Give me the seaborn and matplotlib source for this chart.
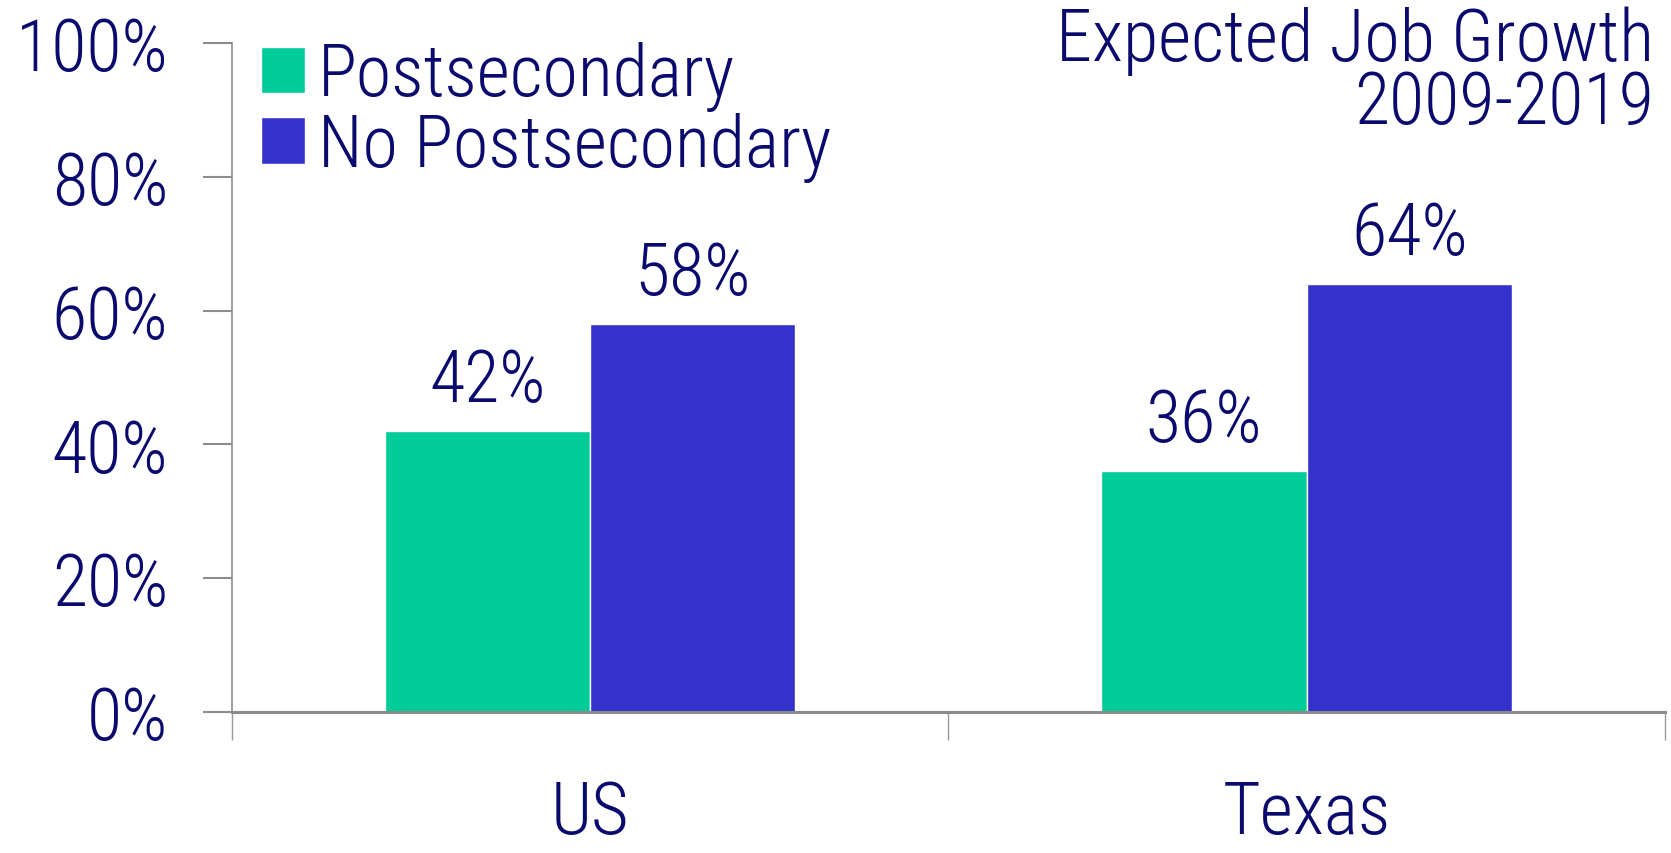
import matplotlib
matplotlib.use("Agg")
import matplotlib.pyplot as plt
import seaborn as sns
import pandas as pd

categories = ["US", "Texas"]
series_names = ["Postsecondary", "No Postsecondary"]
postsecondary = [42, 36]
no_postsecondary = [58, 64]
y_ticks = [0, 20, 40, 60, 80, 100]
y_tick_labels = ["0%", "20%", "40%", "60%", "80%", "100%"]
title_lines = ["Expected Job Growth", "2009-2019"]

colors = ["#00CC99", "#3333CC"]
text_color = "#0A0A6E"

sns.set_theme(style="white")
plt.rcParams['font.family'] = ['Roboto Condensed', 'Archivo Narrow', 'Liberation Sans', 'DejaVu Sans']
plt.rcParams['font.weight'] = 'light'

df = pd.DataFrame({
    "category": categories * 2,
    "series": [series_names[0]] * 2 + [series_names[1]] * 2,
    "value": postsecondary + no_postsecondary,
})

fig = plt.figure(figsize=(16.71, 8.54), dpi=100)
ax = fig.add_axes([0.1388, 0.1651, 0.8576, 0.7834])

sns.barplot(data=df, x="category", y="value", hue="series", order=categories,
            hue_order=series_names, palette=colors, width=0.573, saturation=1,
            ax=ax, legend=True)

fs = 52
for cont in ax.containers:
    labels = [f"{v:.0f}%" for v in cont.datavalues]
    ax.bar_label(cont, labels=labels, padding=11, fontsize=fs, color=text_color)

ax.set_ylim(0, 100)
ax.set_xlim(-0.5, 1.5)
ax.set_yticks(y_ticks)
ax.set_yticklabels(y_tick_labels, fontsize=fs, color=text_color)
ax.tick_params(axis="y", length=21, width=1.5, color="#8C8C8C", pad=25, left=True)
ax.set_xticks([0, 1])
ax.set_xticklabels(categories, fontsize=fs, color=text_color)
ax.tick_params(axis="x", length=0, pad=48)
ax.set_xticks([-0.5, 0.5, 1.5], minor=True)
ax.tick_params(axis="x", which="minor", length=20, width=1, color="#9A9A9A", bottom=True)
ax.set_xlabel("")
ax.set_ylabel("")

for s in ["top", "right"]:
    ax.spines[s].set_visible(False)
ax.spines["left"].set_color("#8C8C8C")
ax.spines["left"].set_linewidth(1.2)
ax.spines["bottom"].set_color("#8C8C8C")
ax.spines["bottom"].set_linewidth(2.2)

leg = ax.legend(loc="upper left", bbox_to_anchor=(0.02, 1.003), frameon=False,
                fontsize=fs, handlelength=0.62, handleheight=0.62,
                handletextpad=0.18, labelspacing=0.0, borderaxespad=0.0,
                borderpad=0.0)
for t in leg.get_texts():
    t.set_color(text_color)

fig.text(0.990, 0.992, "\n".join(title_lines), ha="right", va="top",
         multialignment="right", linespacing=0.88,
         fontsize=fs, color=text_color)

fig.savefig("out.png", dpi=100)
